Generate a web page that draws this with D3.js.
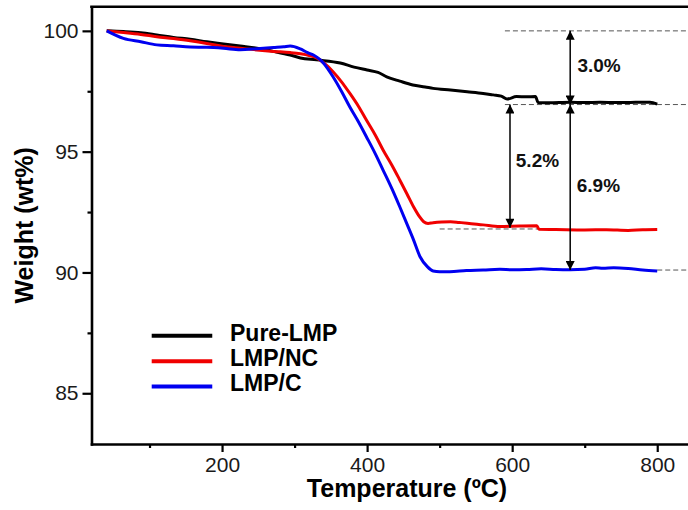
<!DOCTYPE html>
<html>
<head>
<meta charset="utf-8">
<script src="https://cdn.jsdelivr.net/npm/d3@7"></script>
<style>
  body { margin: 0; background: #fff; }
  svg { display: block; font-family: "Liberation Sans", Arial, sans-serif; }
</style>
</head>
<body>
<div id="chart"></div>
<script>
// temperatures (C) and weights (wt%)
var pureT = [41, 64, 88, 110, 133, 156, 179, 202, 225, 248, 271, 294, 308, 330, 363, 382, 400, 415, 427, 445, 463, 480, 491, 515, 538, 560, 574, 585, 593, 606, 620, 632, 636, 650, 680, 700, 721, 745, 770, 790, 800];
var pureW = [100.0, 99.97, 99.92, 99.83, 99.73, 99.65, 99.55, 99.46, 99.37, 99.28, 99.15, 99.0, 98.88, 98.8, 98.67, 98.5, 98.38, 98.28, 98.1, 97.92, 97.76, 97.68, 97.62, 97.55, 97.48, 97.41, 97.35, 97.3, 97.18, 97.28, 97.27, 97.28, 97.03, 97.02, 97.04, 97.03, 97.04, 97.03, 97.04, 97.05, 96.97];

var ncT = [41, 64, 88, 110, 133, 156, 179, 202, 225, 248, 271, 294, 308, 320, 331, 340, 353, 365, 376, 388, 399, 411, 422, 434, 445, 455, 464, 472, 478, 484, 491, 503, 515, 527, 538, 560, 583, 610, 634, 637, 660, 700, 730, 760, 780, 800];
var ncW = [100.0, 99.93, 99.85, 99.76, 99.68, 99.59, 99.48, 99.35, 99.28, 99.21, 99.15, 99.1, 99.05, 98.98, 98.87, 98.68, 98.31, 97.88, 97.42, 96.88, 96.31, 95.7, 95.07, 94.45, 93.83, 93.25, 92.72, 92.32, 92.1, 92.03, 92.06, 92.09, 92.1, 92.07, 92.04, 91.97, 91.9, 91.92, 91.93, 91.79, 91.78, 91.76, 91.77, 91.74, 91.77, 91.78];

var cT = [41, 64, 88, 110, 133, 156, 179, 202, 225, 248, 271, 285, 294, 308, 318, 326, 333, 340, 353, 365, 376, 388, 399, 411, 422, 434, 445, 455, 464, 473, 483, 491, 500, 514, 537, 560, 583, 600, 620, 640, 660, 680, 700, 715, 725, 740, 760, 780, 800];
var cW = [100.0, 99.69, 99.55, 99.42, 99.38, 99.33, 99.32, 99.28, 99.22, 99.26, 99.31, 99.34, 99.37, 99.25, 99.1, 99.0, 98.86, 98.66, 98.1, 97.48, 96.86, 96.24, 95.62, 94.93, 94.24, 93.48, 92.72, 92.0, 91.35, 90.65, 90.24, 90.06, 90.03, 90.03, 90.08, 90.1, 90.13, 90.11, 90.12, 90.15, 90.12, 90.11, 90.13, 90.2, 90.17, 90.19, 90.16, 90.1, 90.06];

var series = [
  { name: "Pure-LMP", color: "#000000", t: pureT, w: pureW },
  { name: "LMP/NC", color: "#f00000", t: ncT, w: ncW },
  { name: "LMP/C", color: "#0000f0", t: cT, w: cW }
];

var xMajor = [200, 400, 600, 800];
var xMinor = [100, 300, 500, 700];
var yMajor = [85, 90, 95, 100];
var yMinor = [87.5, 92.5, 97.5];

// reference levels, difference arrows and their labels
var levelLines = [
  { v: 100.0, t0: 590, t1: 860 },
  { v: 96.95, t0: 590, t1: 860 },
  { v: 91.8, t0: 500, t1: 640 },
  { v: 90.1, t0: 800, t1: 860 }
];
var arrows = [
  { t: 680, v0: 100.0, v1: 96.95 },
  { t: 597, v0: 96.95, v1: 91.85 },
  { t: 680, v0: 96.95, v1: 90.1 }
];
var arrowLabels = [
  { text: "3.0%", t: 690, v: 98.59 },
  { text: "5.2%", t: 605, v: 94.66 },
  { text: "6.9%", t: 689, v: 93.62 }
];
var legendV = [87.38, 86.32, 85.28];

var W = 688, H = 510;

var x = d3.scaleLinear().domain([20, 860]).range([91.5, 91.5 + 840 * 0.7253]);
var y = d3.scaleLinear().domain([82.9, 101]).range([444, 6.7]);

var svg = d3.select("#chart").append("svg")
  .attr("width", W)
  .attr("height", H);

var defs = svg.append("defs");
defs.append("marker")
  .attr("id", "head")
  .attr("viewBox", "0 0 10 10")
  .attr("refX", 10)
  .attr("refY", 5)
  .attr("markerUnits", "userSpaceOnUse")
  .attr("markerWidth", 11)
  .attr("markerHeight", 9)
  .attr("orient", "auto-start-reverse")
  .append("path")
  .attr("d", "M0,0 L10,5 L0,10 Z")
  .attr("fill", "#000");

// dashed reference lines
svg.selectAll(".level")
  .data(levelLines)
  .enter().append("line")
  .attr("class", "level")
  .attr("x1", function (d) { return x(d.t0); })
  .attr("x2", function (d) { return x(d.t1); })
  .attr("y1", function (d) { return y(d.v); })
  .attr("y2", function (d) { return y(d.v); })
  .attr("stroke", "#555")
  .attr("stroke-width", 1)
  .attr("stroke-dasharray", "5,3");

// curves
var line = d3.line()
  .x(function (d) { return x(d[0]); })
  .y(function (d) { return y(d[1]); })
  .curve(d3.curveMonotoneX);

series.forEach(function (s) {
  var pts = s.t.map(function (t, i) { return [t, s.w[i]]; });
  svg.append("path")
    .datum(pts)
    .attr("d", line)
    .attr("fill", "none")
    .attr("stroke", s.color)
    .attr("stroke-width", 3)
    .attr("stroke-linejoin", "round");
});

// arrows
svg.selectAll(".arrow")
  .data(arrows)
  .enter().append("line")
  .attr("class", "arrow")
  .attr("x1", function (d) { return x(d.t); })
  .attr("x2", function (d) { return x(d.t); })
  .attr("y1", function (d) { return y(d.v0); })
  .attr("y2", function (d) { return y(d.v1); })
  .attr("stroke", "#000")
  .attr("stroke-width", 1.5)
  .attr("marker-start", "url(#head)")
  .attr("marker-end", "url(#head)");

svg.selectAll(".alabel")
  .data(arrowLabels)
  .enter().append("text")
  .attr("class", "alabel")
  .attr("x", function (d) { return x(d.t); })
  .attr("y", function (d) { return y(d.v) + 7; })
  .attr("font-size", 19)
  .attr("font-weight", "bold")
  .attr("fill", "#111")
  .text(function (d) { return d.text; });

// axes
var xAxis = svg.append("g")
  .attr("transform", "translate(0," + y(82.9) + ")")
  .call(d3.axisBottom(x).tickValues(xMajor).tickSize(8).tickSizeOuter(0).tickPadding(5).tickFormat(d3.format("d")));
svg.append("g")
  .attr("transform", "translate(0," + y(82.9) + ")")
  .call(d3.axisBottom(x).tickValues(xMinor).tickSize(4).tickSizeOuter(0).tickFormat(""))
  .select(".domain").remove();

var yAxis = svg.append("g")
  .attr("transform", "translate(" + x(20) + ",0)")
  .call(d3.axisLeft(y).tickValues(yMajor).tickSize(9).tickSizeOuter(0).tickPadding(4).tickFormat(d3.format("d")));
svg.append("g")
  .attr("transform", "translate(" + x(20) + ",0)")
  .call(d3.axisLeft(y).tickValues(yMinor).tickSize(4).tickSizeOuter(0).tickFormat(""))
  .select(".domain").remove();

svg.selectAll(".domain")
  .attr("stroke", "#000")
  .attr("stroke-width", 2.6)
  .attr("stroke-linecap", "square");
svg.selectAll(".tick line")
  .attr("stroke", "#000")
  .attr("stroke-width", 2.2);
svg.selectAll(".tick text")
  .attr("font-family", "'Liberation Sans', Arial, sans-serif")
  .attr("font-size", 21)
  .attr("fill", "#1a1a1a");

// top frame line
svg.append("line")
  .attr("x1", x(20))
  .attr("x2", x(860))
  .attr("y1", y(101))
  .attr("y2", y(101))
  .attr("stroke", "#000")
  .attr("stroke-width", 2.6)
  .attr("stroke-linecap", "square");

// axis titles
svg.append("text")
  .attr("x", 407)
  .attr("y", 497)
  .attr("text-anchor", "middle")
  .attr("font-size", 25)
  .attr("font-weight", "bold")
  .text("Temperature (ºC)");

svg.append("text")
  .attr("transform", "translate(33," + (y(82.9) + y(101)) / 2 + ") rotate(-90)")
  .attr("text-anchor", "middle")
  .attr("font-size", 25)
  .attr("font-weight", "bold")
  .text("Weight (wt%)");

// legend
var legend = svg.selectAll(".legend")
  .data(series)
  .enter().append("g")
  .attr("class", "legend");
legend.append("line")
  .attr("x1", x(103))
  .attr("x2", x(186.5))
  .attr("y1", function (d, i) { return y(legendV[i]); })
  .attr("y2", function (d, i) { return y(legendV[i]); })
  .attr("stroke", function (d) { return d.color; })
  .attr("stroke-width", 4);
legend.append("text")
  .attr("x", x(211))
  .attr("y", function (d, i) { return y(legendV[i]) + 5; })
  .attr("font-size", 23)
  .attr("font-weight", "bold")
  .text(function (d) { return d.name; });
</script>
</body>
</html>
